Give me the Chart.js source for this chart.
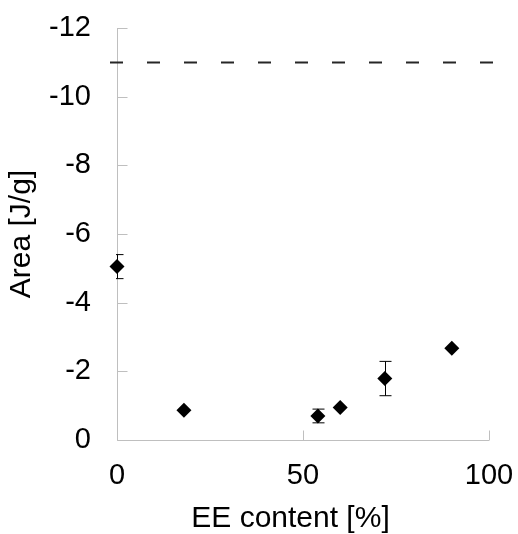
<!DOCTYPE html>
<html>
<head>
<meta charset="utf-8">
<script src="https://cdn.jsdelivr.net/npm/chart.js@4.4.1/dist/chart.umd.min.js"></script>
<style>
  html, body { margin: 0; padding: 0; background: #fff; }
  #wrap { width: 518px; height: 534px; }
</style>
</head>
<body>
<div id="wrap"><canvas id="areaChart" width="518" height="534"></canvas></div>
<script>
// EE content vs. transition area
const eeContent = [0, 18, 54, 60, 72, 90];
const areaValues = [-5.05, -0.87, -0.70, -0.95, -1.79, -2.67];
const areaErrors = [0.35, 0, 0.2, 0, 0.5, 0];
const refLevel = -11;           // dashed reference line
const xTickValues = [0, 50, 100];
const yTickValues = [-12, -10, -8, -6, -4, -2, 0];

const axisColor = '#bfbfbf';
const textColor = '#000';
const fontFamily = '"Liberation Sans", Arial, sans-serif';

// --- Plugins ---
// Error bars, drawn behind the markers
const errorBars = {
  id: 'errorBars',
  beforeDatasetsDraw(chart) {
    const { ctx, scales: { x, y }, chartArea } = chart;
    ctx.save();
    ctx.beginPath();
    ctx.rect(chartArea.left - 1, chartArea.top, chartArea.right - chartArea.left + 1, chartArea.bottom - chartArea.top);
    ctx.clip();
    ctx.strokeStyle = '#000';
    ctx.lineWidth = 1;
    eeContent.forEach((xv, i) => {
      const err = areaErrors[i];
      if (!err) return;
      const px = Math.round(x.getPixelForValue(xv)) + 0.5;
      const top = y.getPixelForValue(areaValues[i] - err);
      const bot = y.getPixelForValue(areaValues[i] + err);
      ctx.beginPath();
      ctx.moveTo(px, top); ctx.lineTo(px, bot);
      ctx.moveTo(px - 6, top); ctx.lineTo(px + 6, top);
      ctx.moveTo(px - 6, bot); ctx.lineTo(px + 6, bot);
      ctx.stroke();
    });
    ctx.restore();
  }
};

// Axis lines with inward tick marks, plus the dashed reference level
const axesDecor = {
  id: 'axesDecor',
  beforeDatasetsDraw(chart) {
    const { ctx, scales: { x, y }, chartArea } = chart;
    const left = Math.round(chartArea.left) + 0.5;
    const bottom = Math.round(chartArea.bottom) + 0.5;
    ctx.save();
    ctx.strokeStyle = axisColor;
    ctx.lineWidth = 1;
    ctx.beginPath();
    ctx.moveTo(left, chartArea.top); ctx.lineTo(left, bottom);
    ctx.lineTo(chartArea.right, bottom);
    yTickValues.forEach(v => {
      const py = Math.round(y.getPixelForValue(v)) + 0.5;
      ctx.moveTo(left, py); ctx.lineTo(left + 10, py);
    });
    xTickValues.forEach(v => {
      const px = Math.round(x.getPixelForValue(v)) + 0.5;
      ctx.moveTo(px, bottom); ctx.lineTo(px, bottom - 10);
    });
    ctx.stroke();

    // reference line
    const ry = Math.round(y.getPixelForValue(refLevel)) + 0.5;
    ctx.strokeStyle = '#262626';
    ctx.lineWidth = 2;
    ctx.setLineDash([13, 24]);
    ctx.beginPath();
    ctx.moveTo(chartArea.left - 7, ry);
    ctx.lineTo(chartArea.right + 8, ry);
    ctx.stroke();
    ctx.restore();
  }
};

// --- Chart ---
const ctx = document.getElementById('areaChart').getContext('2d');
new Chart(ctx, {
  type: 'scatter',
  data: {
    datasets: [{
      label: 'Area',
      data: eeContent.map((v, i) => ({ x: v, y: areaValues[i] })),
      pointStyle: 'rectRot',
      pointRadius: 7.5,
      pointHoverRadius: 7.5,
      backgroundColor: '#000',
      borderColor: '#000',
      borderWidth: 0,
      clip: false
    }]
  },
  options: {
    responsive: false,
    animation: false,
    layout: { autoPadding: false, padding: { left: 0, top: 28, right: 29, bottom: 0 } },
    plugins: {
      legend: { display: false },
      tooltip: { enabled: false }
    },
    scales: {
      x: {
        type: 'linear',
        min: 0,
        max: 100,
        afterBuildTicks: s => { s.ticks = xTickValues.map(v => ({ value: v })); },
        afterFit: s => { s.height = 94; s.paddingLeft = 0; s.paddingRight = 0; },
        border: { display: false },
        grid: { display: false, drawTicks: false },
        ticks: { color: textColor, font: { family: fontFamily, size: 29 }, padding: 19, maxRotation: 0 },
        title: {
          display: true,
          text: 'EE content [%]   ',   // trailing spaces nudge it left like the original
          color: textColor,
          font: { family: fontFamily, size: 30, lineHeight: 1 },
          padding: { top: 0, bottom: 0 }
        }
      },
      y: {
        type: 'linear',
        min: -12,
        max: 0,
        reverse: true,
        afterBuildTicks: s => { s.ticks = yTickValues.map(v => ({ value: v })); },
        afterFit: s => { s.width = 117; s.paddingTop = 0; s.paddingBottom = 0; },
        border: { display: false },
        grid: { display: false, drawTicks: false },
        ticks: { color: textColor, font: { family: fontFamily, size: 29 }, padding: 26 },
        title: {
          display: true,
          text: 'Area [J/g]',
          color: textColor,
          font: { family: fontFamily, size: 30, lineHeight: 1 },
          padding: { top: 7, bottom: 0 }
        }
      }
    }
  },
  plugins: [axesDecor, errorBars]
});
</script>
</body>
</html>
